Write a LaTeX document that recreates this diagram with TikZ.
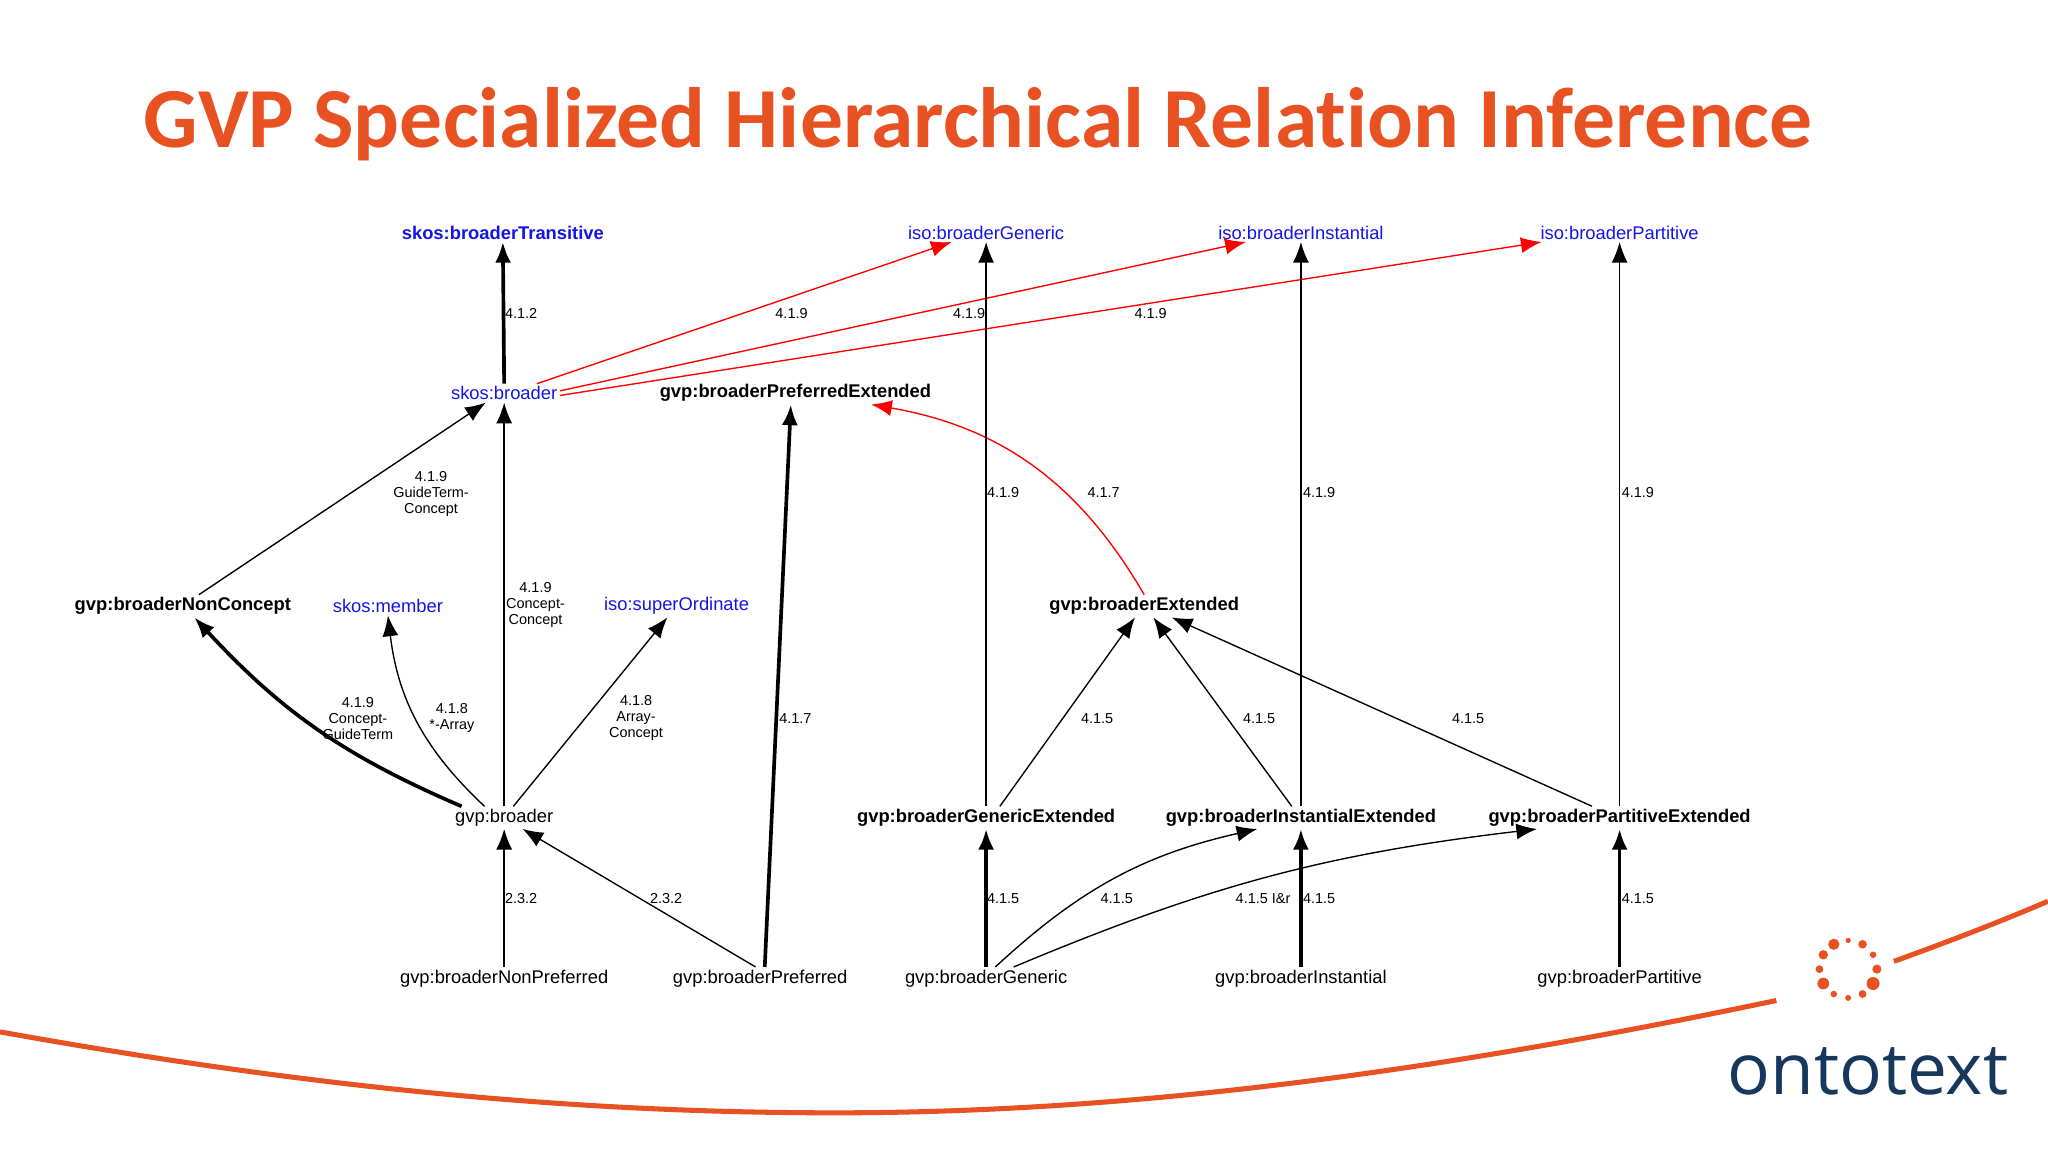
\documentclass[tikz,border=0pt]{standalone}
\usepackage{fontspec}
\setmainfont{Liberation Sans}
\newfontfamily\titlefont[Ligatures=NoCommon]{Carlito}
\newfontfamily\logofont{Open Sans}
\usetikzlibrary{arrows.meta}
\definecolor{ttl}{RGB}{232,82,34}
\definecolor{skb}{RGB}{20,20,230}
\definecolor{navy}{RGB}{22,56,92}
\tikzset{
 lbl/.style={font=\fontsize{8}{9}\selectfont, inner sep=1pt},
 blu/.style={lbl,text=skb},
 bld/.style={lbl,font=\fontsize{8}{9}\selectfont\bfseries},
 bblu/.style={bld,text=skb},
 el/.style={font=\fontsize{6.3}{7}\selectfont, align=center, inner sep=0pt},
 ed/.style={-{Latex[length=9pt,width=7pt]}, line width=0.6pt},
 edt/.style={ed, line width=1.6pt},
 edr/.style={ed, draw=red},
}
\begin{document}
\begin{tikzpicture}[x=0.02cm,y=-0.02cm]
\useasboundingbox (0,0) rectangle (1568,882);
% swoosh
\draw[ttl, line width=2.2pt] (0,790) .. controls (250,835) and (450,852) .. (640,852) .. controls (900,852) and (1150,810) .. (1360,766);
\draw[ttl, line width=2.2pt] (1450,736) .. controls (1500,718) and (1540,702) .. (1568,690);
\foreach \a/\r in {0/3.5,30/5,60/3,90/2.3,120/2.5,150/4.5,180/3,210/3.6,240/4.3,270/2,300/3.3,330/2.5}
  \fill[ttl] (1415,742) ++(\a:22) circle (\r);
\node[text=navy, font=\logofont\fontsize{31}{31}\selectfont, anchor=center] (logo) at (1430,820) {ontotext};
\node[text=ttl, font=\titlefont\bfseries\fontsize{37.3}{38}\selectfont, anchor=west] (title) at (104,95) {GVP Specialized Hierarchical Relation Inference};
% nodes
\node[bblu] (sbt) at (385,178) {skos:broaderTransitive};
\node[blu] (ibg) at (755,178) {iso:broaderGeneric};
\node[blu] (ibi) at (996,178) {iso:broaderInstantial};
\node[blu] (ibp) at (1240,178) {iso:broaderPartitive};
\node[blu] (sb) at (386,301) {skos:broader};
\node[bld] (bpe) at (609,301) {gvp:broaderPreferredExtended};
\node[bld] (bnc) at (140,464) {gvp:broaderNonConcept};
\node[blu] (sm) at (297,464) {skos:member};
\node[blu] (iso) at (518,464) {iso:superOrdinate};
\node[bld] (be) at (876,464) {gvp:broaderExtended};
\node[lbl] (gb) at (386,626) {gvp:broader};
\node[bld] (bge) at (755,626) {gvp:broaderGenericExtended};
\node[bld] (bie) at (996,626) {gvp:broaderInstantialExtended};
\node[bld] (bpte) at (1240,626) {gvp:broaderPartitiveExtended};
\node[lbl] (bnp) at (386,749) {gvp:broaderNonPreferred};
\node[lbl] (bp) at (582,749) {gvp:broaderPreferred};
\node[lbl] (bg) at (755,749) {gvp:broaderGeneric};
\node[lbl] (bi) at (996,749) {gvp:broaderInstantial};
\node[lbl] (bpt) at (1240,749) {gvp:broaderPartitive};
% edges
\draw[edt] (sb.north) -- (sbt.south);
\draw[edr] ([xshift=-10pt]sb.north east) -- ([xshift=-15pt]ibg.south);
\draw[edr] ([yshift=1pt]sb.east) -- ([xshift=-24pt]ibi.south);
\draw[edr] ([yshift=-1pt]sb.east) -- ([xshift=-34pt]ibp.south);
\draw[ed] ([xshift=7pt]bnc.north) -- ([xshift=-8pt]sb.south);
\draw[ed] (gb.north) -- (sb.south);
\draw[edt] ([xshift=4pt]gb.north west) to[bend left=12] ([xshift=5pt]bnc.south);
\draw[ed] ([xshift=14pt]gb.north west) to[bend left=20] (sm.south);
\draw[ed] ([xshift=4pt]gb.north) -- ([xshift=-4pt]iso.south);
\draw[ed] (bnp.north) -- (gb.south);
\draw[ed] ([xshift=-2pt]bp.north) -- ([xshift=8pt]gb.south);
\draw[edt] ([xshift=2pt]bp.north) -- ([xshift=-2pt]bpe.south);
\draw[edr] (be.north) to[bend right=25] ([xshift=33pt]bpe.south);
\draw[ed] (bge.north) -- (ibg.south);
\draw[ed] (bie.north) -- (ibi.south);
\draw[ed] (bpte.north) -- (ibp.south);
\draw[ed] ([xshift=6pt]bge.north) -- ([xshift=-4pt]be.south);
\draw[ed] ([xshift=-4pt]bie.north) -- ([xshift=4pt]be.south);
\draw[ed] ([xshift=-12pt]bpte.north) -- ([xshift=12pt]be.south);
\draw[edt] (bg.north) -- (bge.south);
\draw[ed] ([xshift=4pt]bg.north) to[bend left=15] ([xshift=-19pt]bie.south);
\draw[ed] ([xshift=12pt]bg.north) to[bend left=8] ([xshift=-36pt]bpte.south);
\draw[edt] (bi.north) -- (bie.south);
\draw[edt] (bpt.north) -- (bpte.south);
% edge labels
\node[el] (l1) at (399,240) {4.1.2};
\node[el] (l2) at (606,240) {4.1.9};
\node[el] (l3) at (742,240) {4.1.9};
\node[el] (l4) at (881,240) {4.1.9};
\node[el] (l5) at (330,378) {4.1.9\\GuideTerm-\\Concept};
\node[el] (l6) at (410,463) {4.1.9\\Concept-\\Concept};
\node[el] (l7) at (274,550) {4.1.9\\Concept-\\GuideTerm};
\node[el] (l8) at (346,550) {4.1.8\\*-Array};
\node[el] (l9) at (487,550) {4.1.8\\Array-\\Concept};
\node[el] (l10) at (399,688) {2.3.2};
\node[el] (l11) at (510,688) {2.3.2};
\node[el] (l12) at (609,550) {4.1.7};
\node[el] (l13) at (845,377) {4.1.7};
\node[el] (l14) at (768,377) {4.1.9};
\node[el] (l15) at (1010,377) {4.1.9};
\node[el] (l16) at (1254,377) {4.1.9};
\node[el] (l17) at (840,550) {4.1.5};
\node[el] (l18) at (964,550) {4.1.5};
\node[el] (l19) at (1124,550) {4.1.5};
\node[el] (l20) at (768,688) {4.1.5};
\node[el] (l21) at (855,688) {4.1.5};
\node[el] (l22) at (967,688) {4.1.5 I\&r};
\node[el] (l23) at (1010,688) {4.1.5};
\node[el] (l24) at (1254,688) {4.1.5};
\end{tikzpicture}
\end{document}
